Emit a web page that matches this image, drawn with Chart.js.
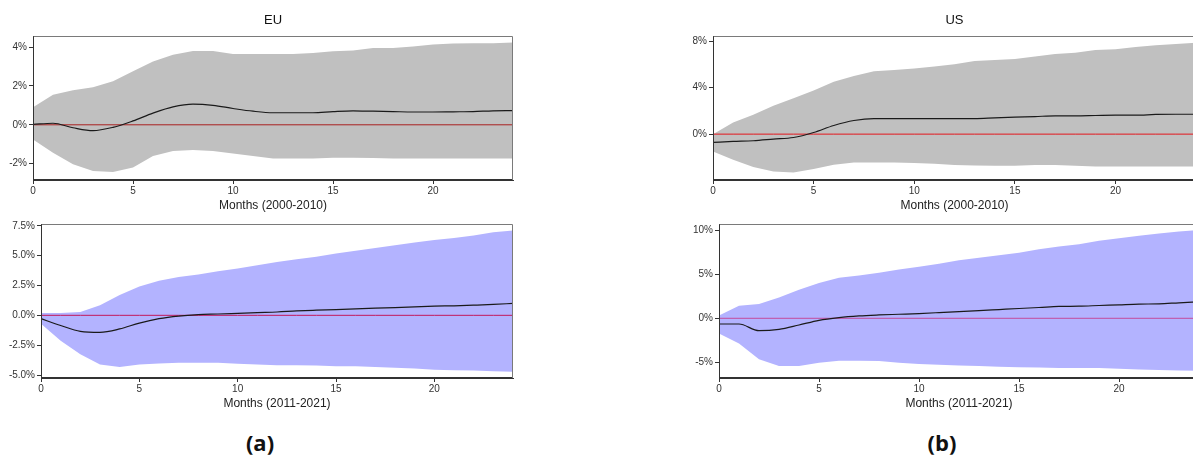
<!DOCTYPE html>
<html>
<head>
<meta charset="utf-8">
<title>Impulse responses EU / US</title>
<script src="https://cdn.jsdelivr.net/npm/chart.js@4.4.1/dist/chart.umd.min.js"></script>
<style>
  html, body { margin: 0; padding: 0; background: #fff; }
  body { width: 1193px; height: 458px; position: relative; overflow: hidden; }
  .panel { position: absolute; }
  .panel canvas { display: block; }
  .tag { position: absolute; top: 427px; width: 80px; margin-left: -40px; text-align: center; font: bold 22px 'Open Sans', sans-serif; color: #111; }
</style>
</head>
<body>
<div class="panel"><canvas id="euPre"></canvas></div>
<div class="panel"><canvas id="usPre"></canvas></div>
<div class="panel"><canvas id="euPost"></canvas></div>
<div class="panel"><canvas id="usPost"></canvas></div>
<div class="tag" style="left:260px">(a)</div>
<div class="tag" style="left:942px">(b)</div>
<script>
// horizon in months
const months = [0, 1, 2, 3, 4, 5, 6, 7, 8, 9, 10, 11, 12, 13, 14, 15, 16, 17, 18, 19, 20, 21, 22, 23, 24];
const monthTicks = [0, 5, 10, 15, 20];
const baseline = months.map(() => 0);

// EU, 2000-2010
const euPreIrf = [0.02, 0.08, -0.15, -0.3, -0.13, 0.2, 0.6, 0.92, 1.06, 1.0, 0.84, 0.7, 0.62, 0.62, 0.62, 0.68, 0.72, 0.7, 0.68, 0.66, 0.66, 0.67, 0.68, 0.72, 0.73];
const euPreUpper = [0.9, 1.55, 1.78, 1.93, 2.24, 2.75, 3.26, 3.6, 3.8, 3.8, 3.65, 3.64, 3.64, 3.64, 3.7, 3.78, 3.83, 3.95, 3.95, 4.03, 4.13, 4.19, 4.2, 4.2, 4.24];
const euPreLower = [-0.75, -1.44, -2.03, -2.38, -2.43, -2.2, -1.6, -1.35, -1.3, -1.35, -1.47, -1.6, -1.74, -1.74, -1.74, -1.69, -1.69, -1.71, -1.74, -1.74, -1.74, -1.73, -1.73, -1.73, -1.73];
const euPreTicks = [-2, 0, 2, 4];
const euPreTickLabels = ['-2%', '0%', '2%', '4%'];

// US, 2000-2010
const usPreIrf = [-0.71, -0.63, -0.57, -0.43, -0.29, 0.14, 0.74, 1.17, 1.34, 1.34, 1.34, 1.34, 1.34, 1.34, 1.4, 1.46, 1.51, 1.57, 1.57, 1.6, 1.63, 1.63, 1.69, 1.71, 1.71];
const usPreUpper = [0, 1.0, 1.66, 2.43, 3.09, 3.74, 4.51, 5.0, 5.4, 5.51, 5.63, 5.8, 6.0, 6.29, 6.37, 6.46, 6.66, 6.89, 7.0, 7.23, 7.29, 7.49, 7.63, 7.74, 7.86];
const usPreLower = [-1.49, -2.2, -2.83, -3.2, -3.29, -3.0, -2.63, -2.43, -2.43, -2.43, -2.49, -2.54, -2.66, -2.69, -2.71, -2.71, -2.66, -2.66, -2.71, -2.77, -2.77, -2.77, -2.77, -2.77, -2.77];
const usPreTicks = [0, 4, 8];
const usPreTickLabels = ['0%', '4%', '8%'];

// EU, 2011-2021
const euPostIrf = [-0.28, -0.85, -1.34, -1.42, -1.14, -0.65, -0.28, -0.06, 0.06, 0.11, 0.17, 0.23, 0.28, 0.37, 0.43, 0.48, 0.54, 0.6, 0.65, 0.71, 0.77, 0.8, 0.85, 0.91, 1.0];
const euPostUpper = [0.2, 0.2, 0.28, 0.85, 1.7, 2.41, 2.9, 3.21, 3.41, 3.69, 3.92, 4.2, 4.46, 4.69, 4.91, 5.17, 5.4, 5.63, 5.88, 6.1, 6.3, 6.48, 6.68, 6.96, 7.1];
const euPostLower = [-0.71, -2.13, -3.27, -4.12, -4.32, -4.12, -4.03, -3.98, -3.98, -3.98, -4.06, -4.12, -4.18, -4.18, -4.2, -4.26, -4.26, -4.32, -4.4, -4.46, -4.55, -4.6, -4.63, -4.69, -4.72];
const euPostTicks = [-5, -2.5, 0, 2.5, 5, 7.5];
const euPostTickLabels = ['-5.0%', '-2.5%', '0.0%', '2.5%', '5.0%', '7.5%'];

// US, 2011-2021
const usPostIrf = [-0.65, -0.65, -1.42, -1.27, -0.77, -0.23, 0.08, 0.27, 0.38, 0.46, 0.54, 0.65, 0.77, 0.88, 1.0, 1.12, 1.23, 1.35, 1.38, 1.46, 1.54, 1.62, 1.65, 1.77, 1.88];
const usPostUpper = [0.31, 1.42, 1.62, 2.38, 3.27, 4.04, 4.62, 4.88, 5.19, 5.58, 5.88, 6.23, 6.62, 6.92, 7.19, 7.5, 7.88, 8.19, 8.46, 8.85, 9.15, 9.42, 9.69, 9.92, 10.08];
const usPostLower = [-1.73, -2.88, -4.69, -5.46, -5.46, -5.08, -4.85, -4.85, -4.88, -5.08, -5.23, -5.31, -5.38, -5.46, -5.54, -5.58, -5.62, -5.69, -5.69, -5.69, -5.77, -5.85, -5.92, -5.96, -6.0];
const usPostTicks = [-5, 0, 5, 10];
const usPostTickLabels = ['-5%', '0%', '5%', '10%'];

(function () {
  'use strict';

  const FONT = "'Liberation Sans', Arial, sans-serif";

  // box = where the canvas sits, area = where the plot frame must land (page px)
  const panels = [
    { id: 'euPre', title: 'EU', xTitle: 'Months (2000-2010)', box: [0, 0, 530, 216], area: [33, 513, 36, 180],
      yMin: -2.84, yMax: 4.57, ticks: euPreTicks, tickLabels: euPreTickLabels,
      irf: euPreIrf, upper: euPreUpper, lower: euPreLower, band: '#c0c0c0', zero: '#a82020', titlePad: 2.8 },
    { id: 'usPre', title: 'US', xTitle: 'Months (2000-2010)', box: [680, 0, 540, 216], area: [713, 1196, 36, 180],
      yMin: -3.94, yMax: 8.43, ticks: usPreTicks, tickLabels: usPreTickLabels,
      irf: usPreIrf, upper: usPreUpper, lower: usPreLower, band: '#c0c0c0', zero: '#e3161c', titlePad: 2.8 },
    { id: 'euPost', title: '', xTitle: 'Months (2011-2021)', box: [0, 216, 530, 200], area: [41, 513, 224, 378],
      yMin: -5.25, yMax: 7.65, ticks: euPostTicks, tickLabels: euPostTickLabels,
      irf: euPostIrf, upper: euPostUpper, lower: euPostLower, band: '#b3b3ff', zero: '#c2185b', titlePad: 4.8 },
    { id: 'usPost', title: '', xTitle: 'Months (2011-2021)', box: [680, 216, 540, 200], area: [719, 1199, 224, 378],
      yMin: -6.82, yMax: 10.77, ticks: usPostTicks, tickLabels: usPostTickLabels,
      irf: usPostIrf, upper: usPostUpper, lower: usPostLower, band: '#b3b3ff', zero: '#c24a9c', titlePad: 4.8 }
  ];

  const framePlugin = {
    id: 'frame',
    afterDatasetsDraw(chart) {
      const { ctx, chartArea: a } = chart;
      const l = Math.round(a.left) + 0.5;
      const r = Math.round(a.right) - 0.5;
      const t = Math.round(a.top) + 0.5;
      const b = Math.round(a.bottom) - 0.5;
      ctx.save();
      ctx.lineWidth = 1;
      ctx.strokeStyle = '#7a7a7a';
      ctx.beginPath();
      ctx.moveTo(l, t); ctx.lineTo(r, t); ctx.lineTo(r, b);
      ctx.stroke();
      ctx.strokeStyle = '#333';
      ctx.beginPath();
      ctx.moveTo(l, t); ctx.lineTo(l, b); ctx.lineTo(r, b);
      ctx.stroke();
      ctx.restore();
    }
  };

  function makeChart(p) {
    const [bx, by, bw, bh] = p.box;
    const [left, right, top, bottom] = p.area;
    const canvas = document.getElementById(p.id);
    const holder = canvas.parentNode;
    holder.style.left = bx + 'px';
    holder.style.top = by + 'px';
    canvas.width = bw;
    canvas.height = bh;
    canvas.style.width = bw + 'px';
    canvas.style.height = bh + 'px';

    return new Chart(canvas.getContext('2d'), {
      type: 'line',
      data: {
        labels: months,
        datasets: [
          { data: p.upper, fill: '+1', backgroundColor: p.band, borderColor: 'rgba(0,0,0,0)', borderWidth: 0, pointRadius: 0, order: 3 },
          { data: p.lower, fill: false, borderColor: 'rgba(0,0,0,0)', borderWidth: 0, pointRadius: 0, order: 3 },
          { data: baseline, fill: false, borderColor: p.zero, borderWidth: 1, pointRadius: 0, order: 2 },
          { data: p.irf, fill: false, borderColor: '#1a1a1a', borderWidth: 1.2, pointRadius: 0, cubicInterpolationMode: 'monotone', order: 1 }
        ]
      },
      options: {
        responsive: false,
        animation: false,
        events: [],
        layout: {
          padding: { left: 0, right: bx + bw - right, top: p.title ? 0 : top - by, bottom: 0 }
        },
        plugins: {
          legend: { display: false },
          tooltip: { enabled: false },
          title: {
            display: !!p.title,
            text: p.title,
            fullSize: false,
            color: '#111',
            font: { family: FONT, size: 13, weight: 'normal' },
            padding: { top: 12.2, bottom: top - by - 15.6 - 12.2 }
          }
        },
        scales: {
          x: {
            type: 'linear',
            min: 0,
            max: 24,
            afterBuildTicks: (scale) => { scale.ticks = monthTicks.map((v) => ({ value: v })); },
            afterFit: (scale) => { scale.height = by + bh - bottom; },
            grid: { drawOnChartArea: false, drawTicks: true, tickLength: 4, tickColor: '#333' },
            border: { display: true, color: '#333' },
            ticks: { color: '#333', padding: 1, maxRotation: 0, font: { family: FONT, size: 10 } },
            title: { display: true, text: p.xTitle, color: '#222', font: { family: FONT, size: 12 }, padding: { top: 0, bottom: p.titlePad } }
          },
          y: {
            type: 'linear',
            min: p.yMin,
            max: p.yMax,
            afterBuildTicks: (scale) => { scale.ticks = p.ticks.map((v) => ({ value: v })); },
            afterFit: (scale) => { scale.width = left - bx; },
            grid: { drawOnChartArea: false, drawTicks: true, tickLength: 4, tickColor: '#333' },
            border: { display: true, color: '#333' },
            ticks: {
              color: '#333',
              padding: 2,
              font: { family: FONT, size: 10 },
              callback: (value, index) => p.tickLabels[index]
            }
          }
        }
      },
      plugins: [framePlugin]
    });
  }

  panels.forEach(makeChart);
})();
</script>
</body>
</html>
